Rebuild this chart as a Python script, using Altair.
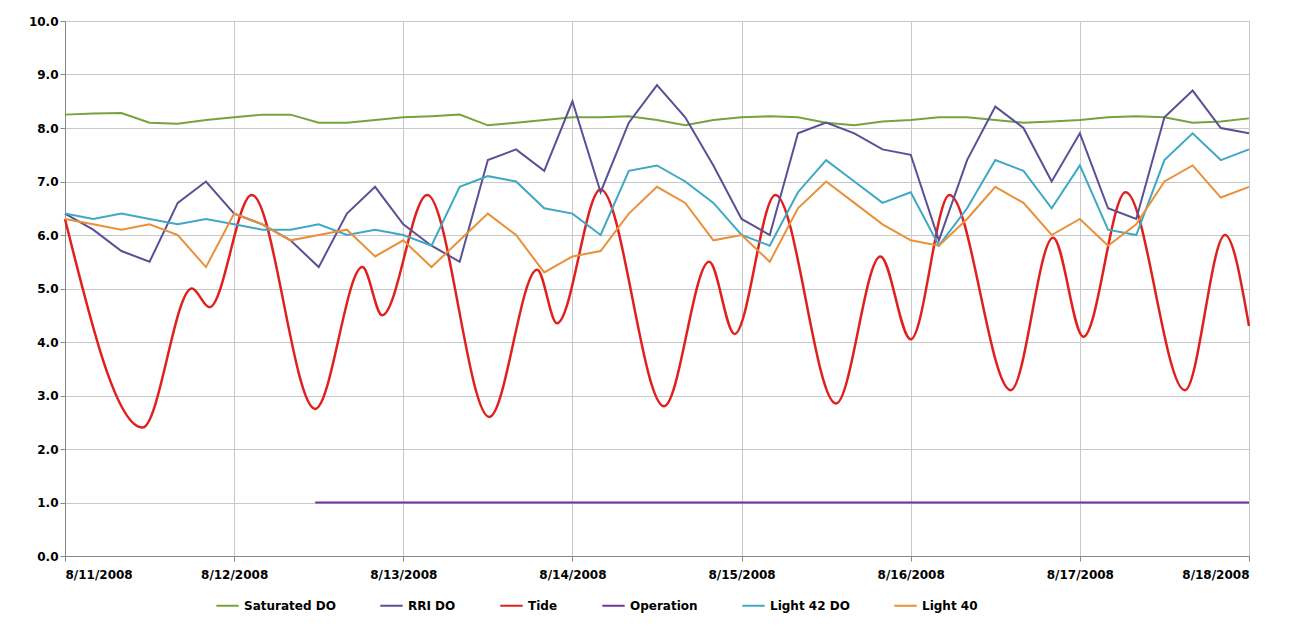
import pandas as pd
import altair as alt

hours = list(range(0, 169, 4))
sat_do = [8.25, 8.27, 8.28, 8.1, 8.08, 8.15, 8.2, 8.25, 8.25, 8.1, 8.1, 8.15, 8.2, 8.22, 8.25,
          8.05, 8.1, 8.15, 8.2, 8.2, 8.22, 8.15, 8.05, 8.15, 8.2, 8.22, 8.2, 8.1, 8.05, 8.12,
          8.15, 8.2, 8.2, 8.15, 8.1, 8.12, 8.15, 8.2, 8.22, 8.2, 8.1, 8.12, 8.18]
rri_do = [6.4, 6.1, 5.7, 5.5, 6.6, 7.0, 6.4, 6.2, 5.9, 5.4, 6.4, 6.9, 6.2, 5.8, 5.5,
          7.4, 7.6, 7.2, 8.5, 6.8, 8.1, 8.8, 8.2, 7.3, 6.3, 6.0, 7.9, 8.1, 7.9, 7.6,
          7.5, 5.9, 7.4, 8.4, 8.0, 7.0, 7.9, 6.5, 6.3, 8.2, 8.7, 8.0, 7.9]
light42 = [6.4, 6.3, 6.4, 6.3, 6.2, 6.3, 6.2, 6.1, 6.1, 6.2, 6.0, 6.1, 6.0, 5.8, 6.9,
           7.1, 7.0, 6.5, 6.4, 6.0, 7.2, 7.3, 7.0, 6.6, 6.0, 5.8, 6.8, 7.4, 7.0, 6.6,
           6.8, 5.8, 6.5, 7.4, 7.2, 6.5, 7.3, 6.1, 6.0, 7.4, 7.9, 7.4, 7.6]
light40 = [6.3, 6.2, 6.1, 6.2, 6.0, 5.4, 6.4, 6.2, 5.9, 6.0, 6.1, 5.6, 5.9, 5.4, 5.9,
           6.4, 6.0, 5.3, 5.6, 5.7, 6.4, 6.9, 6.6, 5.9, 6.0, 5.5, 6.5, 7.0, 6.6, 6.2,
           5.9, 5.8, 6.3, 6.9, 6.6, 6.0, 6.3, 5.8, 6.2, 7.0, 7.3, 6.7, 6.9]

# tide turning points (hour, value)
tide_hours = [0, 11, 18, 20.5, 26.5, 35.5, 42.2, 45, 51.4, 60.2, 67, 69.8, 76, 85, 91.4, 95,
              100.8, 109.4, 115.7, 120, 125.5, 134.2, 140.2, 144.5, 150.5, 158.9, 164.6, 168]
tide_vals = [6.3, 2.4, 5.0, 4.65, 6.75, 2.75, 5.4, 4.5, 6.75, 2.6, 5.35, 4.35, 6.85, 2.8, 5.5, 4.15,
             6.75, 2.85, 5.6, 4.05, 6.75, 3.1, 5.95, 4.1, 6.8, 3.1, 6.0, 4.3]
op_hours = [35.5, 168]
op_vals = [1.0, 1.0]

start = pd.Timestamp("2008-08-11")
def frame(hrs, vals, name):
    return pd.DataFrame({"t": [start + pd.Timedelta(hours=h) for h in hrs], "v": vals, "s": name})

names = ["Saturated DO", "RRI DO", "Tide", "Operation", "Light 42 DO", "Light 40"]
colors = ["#77a33c", "#5b4f96", "#e0201d", "#7030a0", "#3fa8c4", "#e8913a"]

df_main = pd.concat([frame(hours, sat_do, names[0]), frame(hours, rri_do, names[1]),
                     frame(op_hours, op_vals, names[3]), frame(hours, light42, names[4]),
                     frame(hours, light40, names[5])])
df_tide = frame(tide_hours, tide_vals, names[2])

x = alt.X("t:T", title=None, scale=alt.Scale(domain=["2008-08-11T00:00:00", "2008-08-18T00:00:00"]),
          axis=alt.Axis(format="%-m/%-d/%Y", tickCount=alt.TickCount(interval="day", step=1),
                        labelFontWeight="bold", labelFontSize=12, labelPadding=8))
y = alt.Y("v:Q", title=None, scale=alt.Scale(domain=[0, 10]),
          axis=alt.Axis(values=[i for i in range(11)], format=".1f", labelFontWeight="bold", labelFontSize=12))
color = alt.Color("s:N", scale=alt.Scale(domain=names, range=colors), sort=names,
                  legend=alt.Legend(orient="none", legendX=150, legendY=572, title=None, direction="horizontal",
                                    symbolType="stroke", symbolSize=500, labelFontWeight="bold", labelFontSize=12,
                                    symbolStrokeWidth=2, columnPadding=40))

lines = alt.Chart(df_main).mark_line(strokeWidth=2).encode(x=x, y=y, color=color, detail="s:N")
tide = alt.Chart(df_tide).mark_line(strokeWidth=2.5, interpolate="monotone").encode(x=x, y=y, color=color)

chart = (tide + lines).properties(
    width=1184, height=535, padding={"left": 20, "top": 7, "right": 5, "bottom": 5}
).configure_axis(
    gridColor="#c8c8c8", domainColor="#888", tickColor="#888", labelFont="DejaVu Sans"
).configure_legend(labelFont="DejaVu Sans").configure_view(stroke="#888")

chart.save("out.html", embed_options={"renderer": "svg", "actions": False})
